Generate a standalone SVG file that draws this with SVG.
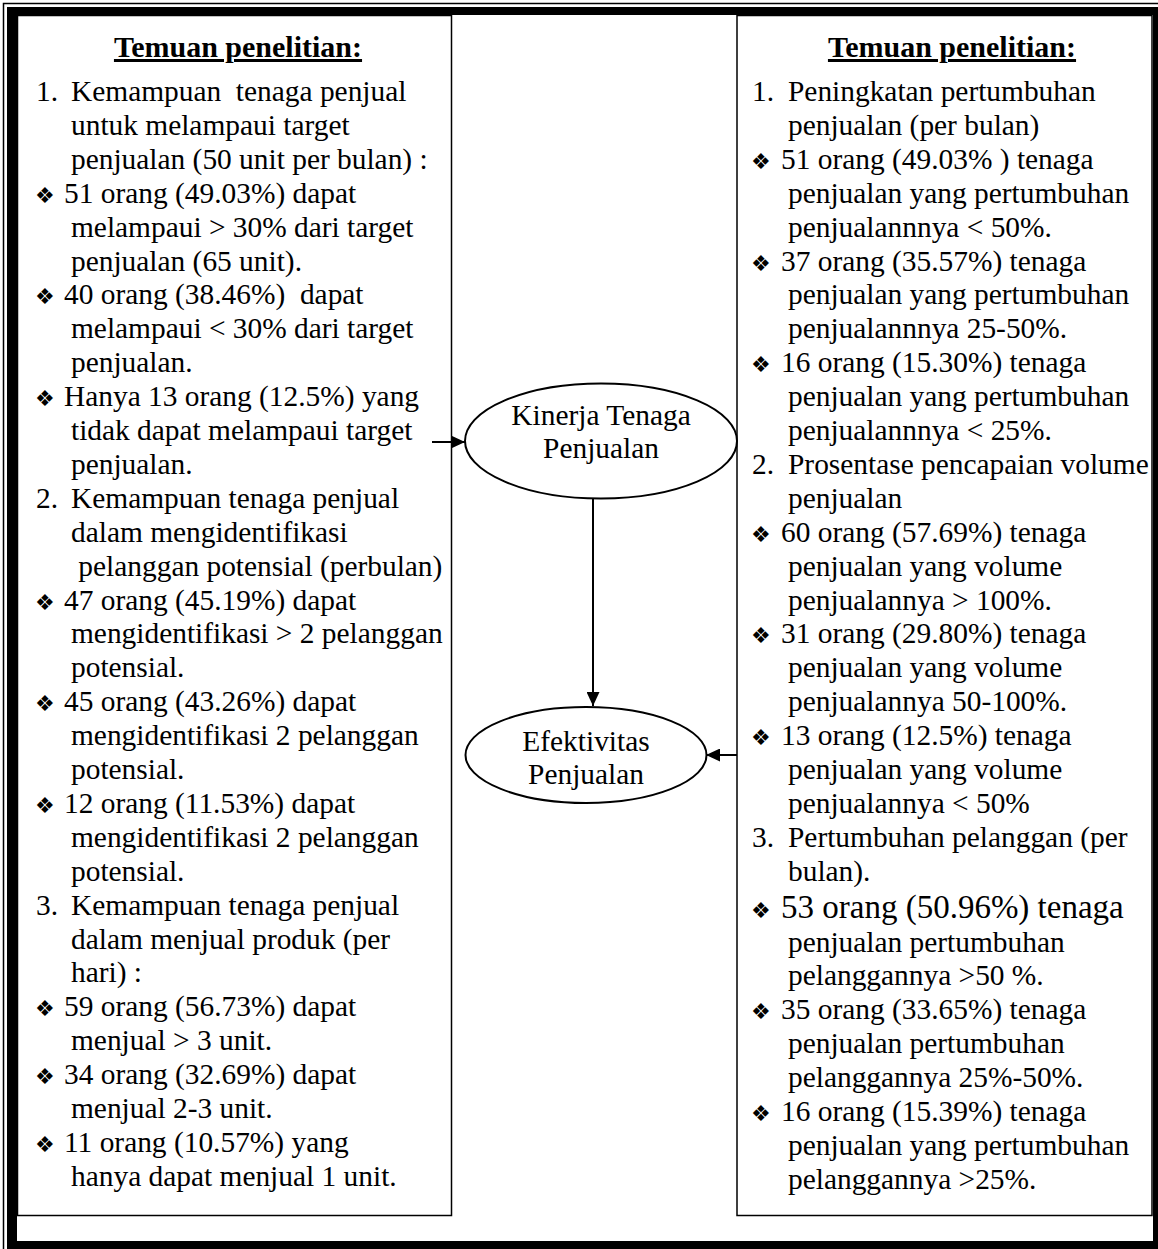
<svg xmlns="http://www.w3.org/2000/svg" width="1158" height="1249" viewBox="0 0 1158 1249">
  <style>
    .t { font-family: "Liberation Serif", "Times New Roman", serif; font-size: 29.4px; fill: #000; }
    .h { font-family: "Liberation Serif", "Times New Roman", serif; font-size: 30px; font-weight: bold; text-decoration: underline; text-anchor: middle; fill: #000; }
    .c { text-anchor: middle; }
    .big { font-size: 33px; }
    .b { font-family: "DejaVu Sans", sans-serif; font-size: 22px; fill: #000; }
    .box { fill: #fff; stroke: #000; stroke-width: 1.5; }
    .node { fill: #fff; stroke: #000; stroke-width: 2; }
    .edge { fill: none; stroke: #000; stroke-width: 2; }
  </style>
  <defs>
    <marker id="arrow" markerUnits="userSpaceOnUse" markerWidth="15" markerHeight="13" refX="14" refY="6.5" orient="auto">
      <path d="M0,0 L14,6.5 L0,13 z" fill="#000"/>
    </marker>
  </defs>

  <rect width="1158" height="1249" fill="#fff"/>

  <!-- page border: thin outer rule with a heavy inner band -->
  <g id="page-border">
    <rect x="3.5" y="3.5" width="1170" height="1270" fill="none" stroke="#000" stroke-width="1.5"/>
    <path d="M7,7 H1170 V1260 H7 Z M17,15 V1241 H1153 V15 Z" fill="#000" fill-rule="evenodd"/>
  </g>

  <!-- left findings box -->
  <g id="left-findings">
    <rect class="box" x="17.5" y="15.5" width="434" height="1200"/>
    <text class="h" x="238" y="57">Temuan penelitian:</text>
    <g class="t">
      <text x="36" y="101">1.</text><text x="71" y="101">Kemampuan &#160;tenaga penjual</text>
      <text x="71" y="134.9">untuk melampaui target</text>
      <text x="71" y="168.8">penjualan (50 unit per bulan) :</text>
      <text x="64" y="202.7">51 orang (49.03%) dapat</text>
      <text x="71" y="236.6">melampaui &gt; 30% dari target</text>
      <text x="71" y="270.5">penjualan (65 unit).</text>
      <text x="64" y="304.4">40 orang (38.46%) &#160;dapat</text>
      <text x="71" y="338.3">melampaui &lt; 30% dari target</text>
      <text x="71" y="372.2">penjualan.</text>
      <text x="64" y="406.1">Hanya 13 orang (12.5%) yang</text>
      <text x="71" y="440">tidak dapat melampaui target</text>
      <text x="71" y="473.9">penjualan.</text>
      <text x="36" y="507.8">2.</text><text x="71" y="507.8">Kemampuan tenaga penjual</text>
      <text x="71" y="541.7">dalam mengidentifikasi</text>
      <text x="71" y="575.6">&#160;pelanggan potensial (perbulan)</text>
      <text x="64" y="609.5">47 orang (45.19%) dapat</text>
      <text x="71" y="643.4">mengidentifikasi &gt; 2 pelanggan</text>
      <text x="71" y="677.3">potensial.</text>
      <text x="64" y="711.2">45 orang (43.26%) dapat</text>
      <text x="71" y="745.1">mengidentifikasi 2 pelanggan</text>
      <text x="71" y="779">potensial.</text>
      <text x="64" y="812.9">12 orang (11.53%) dapat</text>
      <text x="71" y="846.8">mengidentifikasi 2 pelanggan</text>
      <text x="71" y="880.7">potensial.</text>
      <text x="36" y="914.6">3.</text><text x="71" y="914.6">Kemampuan tenaga penjual</text>
      <text x="71" y="948.5">dalam menjual produk (per</text>
      <text x="71" y="982.4">hari) :</text>
      <text x="64" y="1016.3">59 orang (56.73%) dapat</text>
      <text x="71" y="1050.2">menjual &gt; 3 unit.</text>
      <text x="64" y="1084.1">34 orang (32.69%) dapat</text>
      <text x="71" y="1118">menjual 2-3 unit.</text>
      <text x="64" y="1151.9">11 orang (10.57%) yang</text>
      <text x="71" y="1185.8">hanya dapat menjual 1 unit.</text>
    </g>
    <g class="b">
      <text x="35" y="202.7">❖</text>
      <text x="35" y="304.4">❖</text>
      <text x="35" y="406.1">❖</text>
      <text x="35" y="609.5">❖</text>
      <text x="35" y="711.2">❖</text>
      <text x="35" y="812.9">❖</text>
      <text x="35" y="1016.3">❖</text>
      <text x="35" y="1084.1">❖</text>
      <text x="35" y="1151.9">❖</text>
    </g>
  </g>

  <!-- right findings box -->
  <g id="right-findings">
    <rect class="box" x="737" y="15.5" width="415" height="1200"/>
    <text class="h" x="952" y="57">Temuan penelitian:</text>
    <g class="t">
      <text x="752" y="101">1.</text><text x="788" y="101">Peningkatan pertumbuhan</text>
      <text x="788" y="134.9">penjualan (per bulan)</text>
      <text x="781" y="168.8">51 orang (49.03% ) tenaga</text>
      <text x="788" y="202.7">penjualan yang pertumbuhan</text>
      <text x="788" y="236.6">penjualannnya &lt; 50%.</text>
      <text x="781" y="270.5">37 orang (35.57%) tenaga</text>
      <text x="788" y="304.4">penjualan yang pertumbuhan</text>
      <text x="788" y="338.3">penjualannnya 25-50%.</text>
      <text x="781" y="372.2">16 orang (15.30%) tenaga</text>
      <text x="788" y="406.1">penjualan yang pertumbuhan</text>
      <text x="788" y="440">penjualannnya &lt; 25%.</text>
      <text x="752" y="473.9">2.</text><text x="788" y="473.9">Prosentase pencapaian volume</text>
      <text x="788" y="507.8">penjualan</text>
      <text x="781" y="541.7">60 orang (57.69%) tenaga</text>
      <text x="788" y="575.6">penjualan yang volume</text>
      <text x="788" y="609.5">penjualannya &gt; 100%.</text>
      <text x="781" y="643.4">31 orang (29.80%) tenaga</text>
      <text x="788" y="677.3">penjualan yang volume</text>
      <text x="788" y="711.2">penjualannya 50-100%.</text>
      <text x="781" y="745.1">13 orang (12.5%) tenaga</text>
      <text x="788" y="779">penjualan yang volume</text>
      <text x="788" y="812.9">penjualannya &lt; 50%</text>
      <text x="752" y="846.8">3.</text><text x="788" y="846.8">Pertumbuhan pelanggan (per</text>
      <text x="788" y="880.7">bulan).</text>
      <text class="big" x="781" y="917.6">53 orang (50.96%) tenaga</text>
      <text x="788" y="951.5">penjualan pertumbuhan</text>
      <text x="788" y="985.4">pelanggannya &gt;50 %.</text>
      <text x="781" y="1019.3">35 orang (33.65%) tenaga</text>
      <text x="788" y="1053.2">penjualan pertumbuhan</text>
      <text x="788" y="1087.1">pelanggannya 25%-50%.</text>
      <text x="781" y="1121">16 orang (15.39%) tenaga</text>
      <text x="788" y="1154.9">penjualan yang pertumbuhan</text>
      <text x="788" y="1188.8">pelanggannya &gt;25%.</text>
    </g>
    <g class="b">
      <text x="751" y="168.8">❖</text>
      <text x="751" y="270.5">❖</text>
      <text x="751" y="372.2">❖</text>
      <text x="751" y="541.7">❖</text>
      <text x="751" y="643.4">❖</text>
      <text x="751" y="745.1">❖</text>
      <text x="751" y="917.6">❖</text>
      <text x="751" y="1019.3">❖</text>
      <text x="751" y="1121">❖</text>
    </g>
  </g>

  <!-- connectors -->
  <g id="connectors">
    <line class="edge" x1="432" y1="442" x2="465" y2="442" marker-end="url(#arrow)"/>
    <line class="edge" x1="593" y1="499" x2="593" y2="706" marker-end="url(#arrow)"/>
    <line class="edge" x1="737" y1="755" x2="706" y2="755" marker-end="url(#arrow)"/>
  </g>

  <!-- concept nodes -->
  <g id="kinerja-tenaga-penjualan">
    <ellipse class="node" cx="601" cy="441" rx="136" ry="57.5"/>
    <text class="t c" x="601" y="425">Kinerja Tenaga</text>
    <text class="t c" x="601" y="458">Penjualan</text>
  </g>
  <g id="efektivitas-penjualan">
    <ellipse class="node" cx="586" cy="755" rx="120.5" ry="48"/>
    <text class="t c" x="586" y="751">Efektivitas</text>
    <text class="t c" x="586" y="784">Penjualan</text>
  </g>
</svg>
